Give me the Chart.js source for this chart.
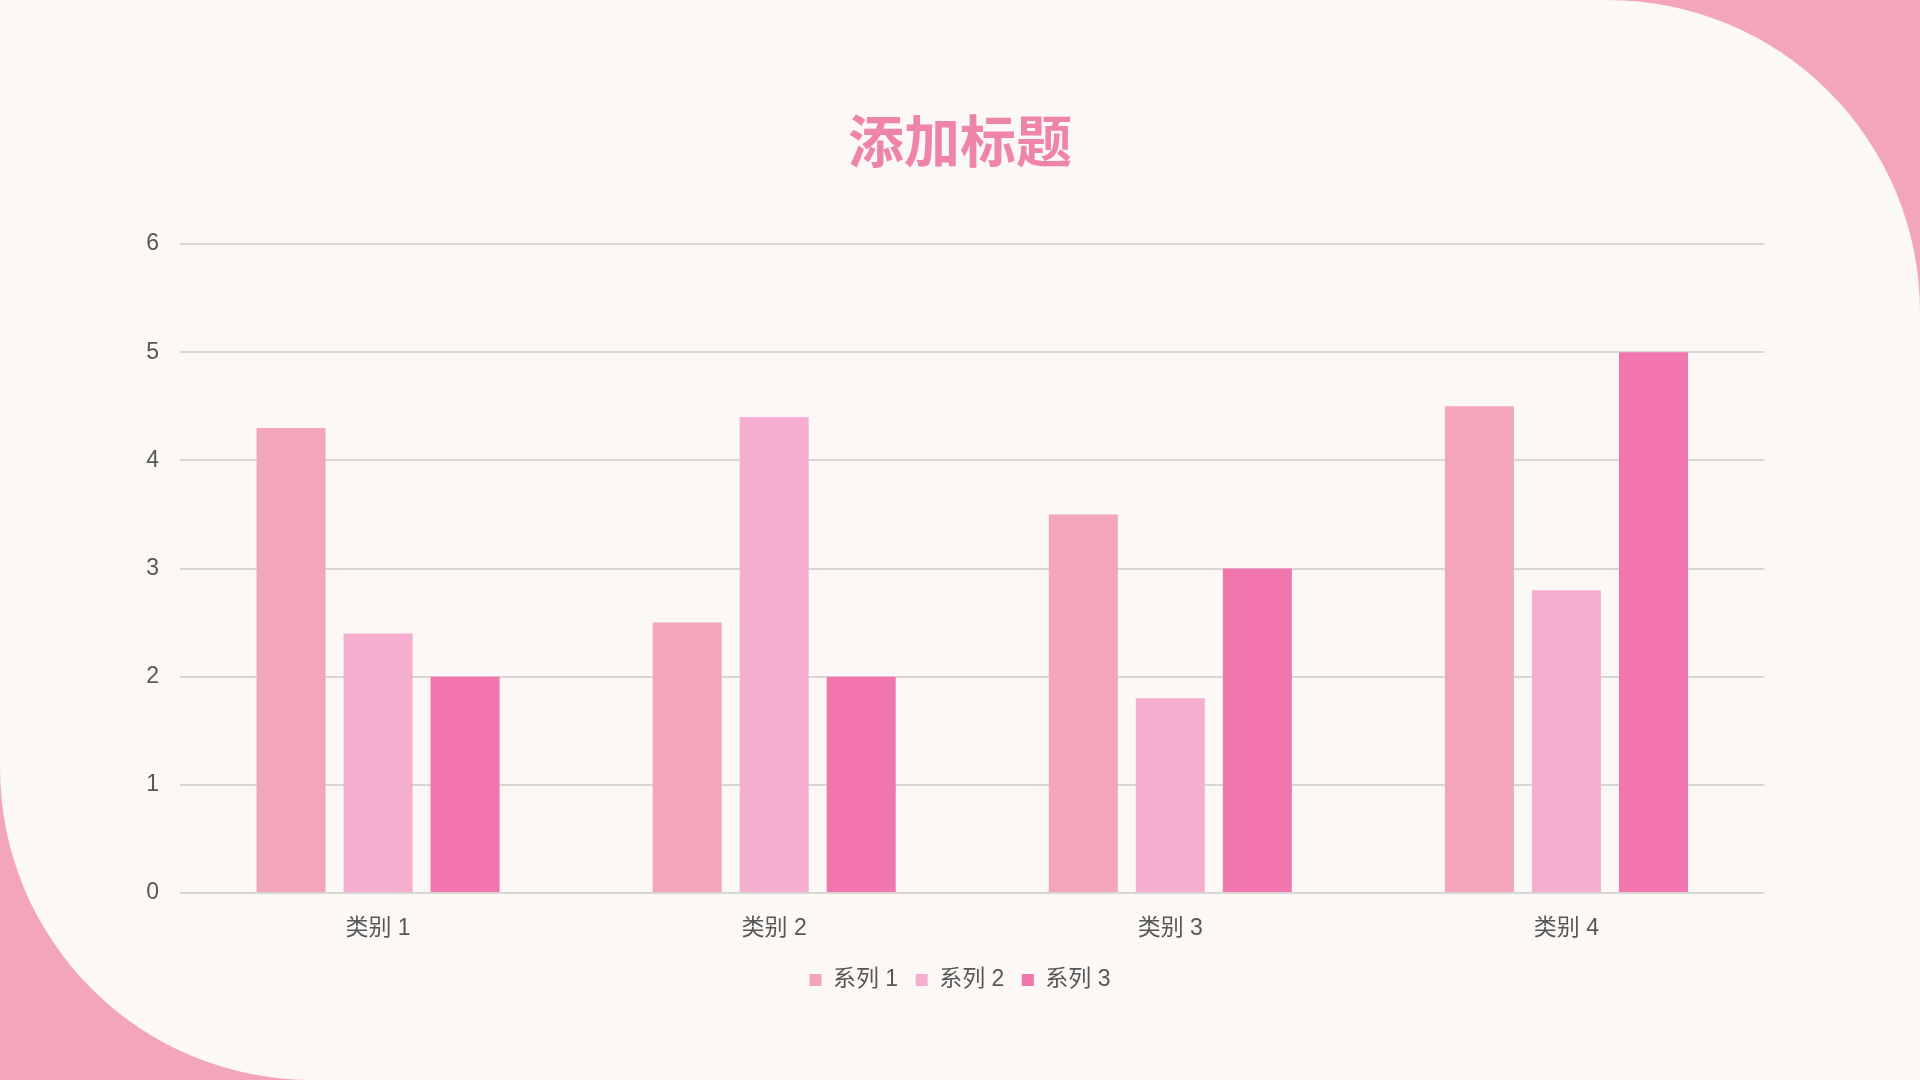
<!DOCTYPE html>
<html>
<head>
<meta charset="utf-8">
<script src="https://cdn.jsdelivr.net/npm/chart.js@4"></script>
<style>
  html, body { margin: 0; padding: 0; width: 1920px; height: 1080px; overflow: hidden; background: #F3A6BB; }
  #panel { position: absolute; left: 0; top: 0; width: 1920px; height: 1080px; background: #FBF8F5; border-radius: 0 312px 0 312px; }
  #c { position: absolute; left: 0; top: 0; }
</style>
</head>
<body>
<div id="panel"></div>
<canvas id="c" width="1920" height="1080"></canvas>
<script>
const titleText = "添加标题";
const categories = ["类别 1", "类别 2", "类别 3", "类别 4"];
const seriesNames = ["系列 1", "系列 2", "系列 3"];
const series1 = [4.3, 2.5, 3.5, 4.5];
const series2 = [2.4, 4.4, 1.8, 2.8];
const series3 = [2, 2, 3, 5];
const yTicks = [0, 1, 2, 3, 4, 5, 6];

const colors = ["#F3A5BB", "#F5ADD0", "#F076AD"];
const textColor = "#575757";
const fontFamily = '"Liberation Sans", "Noto Sans CJK SC", sans-serif';

const ctx = document.getElementById("c").getContext("2d");
new Chart(ctx, {
  type: "bar",
  data: {
    labels: categories,
    datasets: [series1, series2, series3].map((d, i) => ({
      label: seriesNames[i],
      data: d,
      backgroundColor: colors[i],
      borderWidth: 0,
      categoryPercentage: 0.659,
      barPercentage: 0.793
    }))
  },
  options: {
    responsive: false,
    devicePixelRatio: 1,
    animation: false,
    layout: { padding: { left: 0, right: 0, top: 0, bottom: 78.6 } },
    plugins: {
      title: {
        display: true,
        text: titleText,
        color: "#EE84A8",
        font: { family: '"Noto Sans CJK SC", sans-serif', size: 56, weight: "bold", lineHeight: 1.2 },
        padding: { top: 107.4, bottom: 69.4 }
      },
      legend: {
        display: true,
        position: "bottom",
        labels: {
          color: textColor,
          font: { family: fontFamily, size: 23 },
          boxWidth: 12,
          boxHeight: 12,
          padding: 17.5
        }
      },
      tooltip: { enabled: false }
    },
    scales: {
      x: {
        grid: { display: false, drawTicks: false },
        border: { display: false },
        ticks: { color: textColor, font: { family: fontFamily, size: 23 }, padding: 21.5 },
        afterFit: (s) => { s.height = 57.9; }
      },
      y: {
        min: yTicks[0],
        max: yTicks[yTicks.length - 1],
        afterBuildTicks: (s) => { s.ticks = yTicks.map(v => ({ value: v })); },
        grid: { color: "#D9D7D4", lineWidth: 2, drawTicks: false },
        border: { display: false },
        ticks: { color: textColor, font: { family: fontFamily, size: 23 }, padding: 21 },
        afterFit: (s) => { s.width = 180; }
      },
      spacer: {
        type: "linear",
        position: "right",
        display: true,
        grid: { display: false, drawTicks: false },
        border: { display: false },
        ticks: { display: false },
        afterFit: (s) => { s.width = 155.5; }
      }
    }
  }
});
</script>
</body>
</html>
